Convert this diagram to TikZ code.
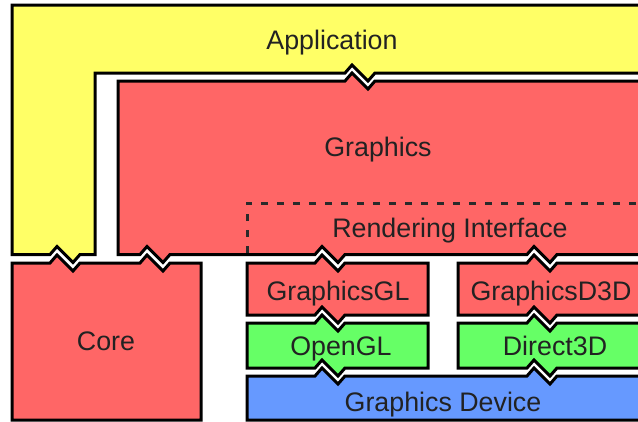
\documentclass[tikz,border=0pt]{standalone}
\usepackage{fontspec}
\setmainfont{Liberation Sans}
\definecolor{appY}{HTML}{FFFF66}
\definecolor{grR}{HTML}{FF6666}
\definecolor{apiG}{HTML}{66FF66}
\definecolor{devB}{HTML}{6699FF}
\definecolor{txt}{HTML}{222222}
\definecolor{dsh}{HTML}{2A2A2A}
% notch on a top edge (left to right) and on a bottom edge (right to left)
\newcommand\ntop[2]{-- (#1,#2) -- ++(7,-8) -- ++(16,16) -- ++(7,-8)}
\newcommand\nbot[2]{-- (#1+30,#2) -- ++(-7,8) -- ++(-16,-16) -- ++(-7,8)}
\tikzset{
  layer/.style={draw=black, line width=3pt, line join=miter},
  lbl/.style={text=txt, font=\fontsize{26.8}{32}\selectfont, inner sep=0pt, anchor=base}
}
\begin{document}
\begin{tikzpicture}[x=1pt,y=-1pt]
\useasboundingbox (0,0) rectangle (638,421);
\begin{scope}
\clip (0,0) rectangle (638,421);
% Application (L shape)
\path[layer, fill=appY] (12,5) -- (670,5) -- (670,73) \nbot{345}{73} -- (95,73) -- (95,254.5) \nbot{50}{254.5} -- (12,254.5) -- cycle;
% Graphics
\path[layer, fill=grR] (118,81) \ntop{345}{81} -- (670,81) -- (670,254.5) \nbot{527}{254.5} \nbot{315}{254.5} \nbot{140}{254.5} -- (118,254.5) -- cycle;
% Rendering interface (dashed)
\draw[dsh, line width=3pt, dash pattern=on 7pt off 9pt] (247,253) -- (247,203) -- (670,203);
% Core
\path[layer, fill=grR] (12,263) \ntop{50}{263} \ntop{140}{263} -- (201,263) -- (201,420) -- (12,420) -- cycle;
% GraphicsGL
\path[layer, fill=grR] (247,263) \ntop{315}{263} -- (428,263) -- (428,315) \nbot{315}{315} -- (247,315) -- cycle;
% GraphicsD3D
\path[layer, fill=grR] (458,263) \ntop{527}{263} -- (670,263) -- (670,315) \nbot{527}{315} -- (458,315) -- cycle;
% OpenGL
\path[layer, fill=apiG] (247,323) \ntop{315}{323} -- (428,323) -- (428,368) \nbot{315}{368} -- (247,368) -- cycle;
% Direct3D
\path[layer, fill=apiG] (458,323) \ntop{527}{323} -- (670,323) -- (670,368) \nbot{527}{368} -- (458,368) -- cycle;
% Graphics Device
\path[layer, fill=devB] (247,376) \ntop{315}{376} \ntop{527}{376} -- (670,376) -- (670,420) -- (247,420) -- cycle;
\end{scope}
% Labels
\node[lbl] (tApp) at (332,49.5) {Application};
\node[lbl] (tGfx) at (378,156.5) {Graphics};
\node[lbl] (tRI) at (450,237.5) {Rendering Interface};
\node[lbl] (tCore) at (106,350.5) {Core};
\node[lbl] (tGL) at (338,300.5) {GraphicsGL};
\node[lbl] (tD3D) at (551,300.5) {GraphicsD3D};
\node[lbl] (tOGL) at (341,355.5) {OpenGL};
\node[lbl] (tDx) at (555,355.5) {Direct3D};
\node[lbl] (tDev) at (443,411.5) {Graphics Device};
\end{tikzpicture}
\end{document}
